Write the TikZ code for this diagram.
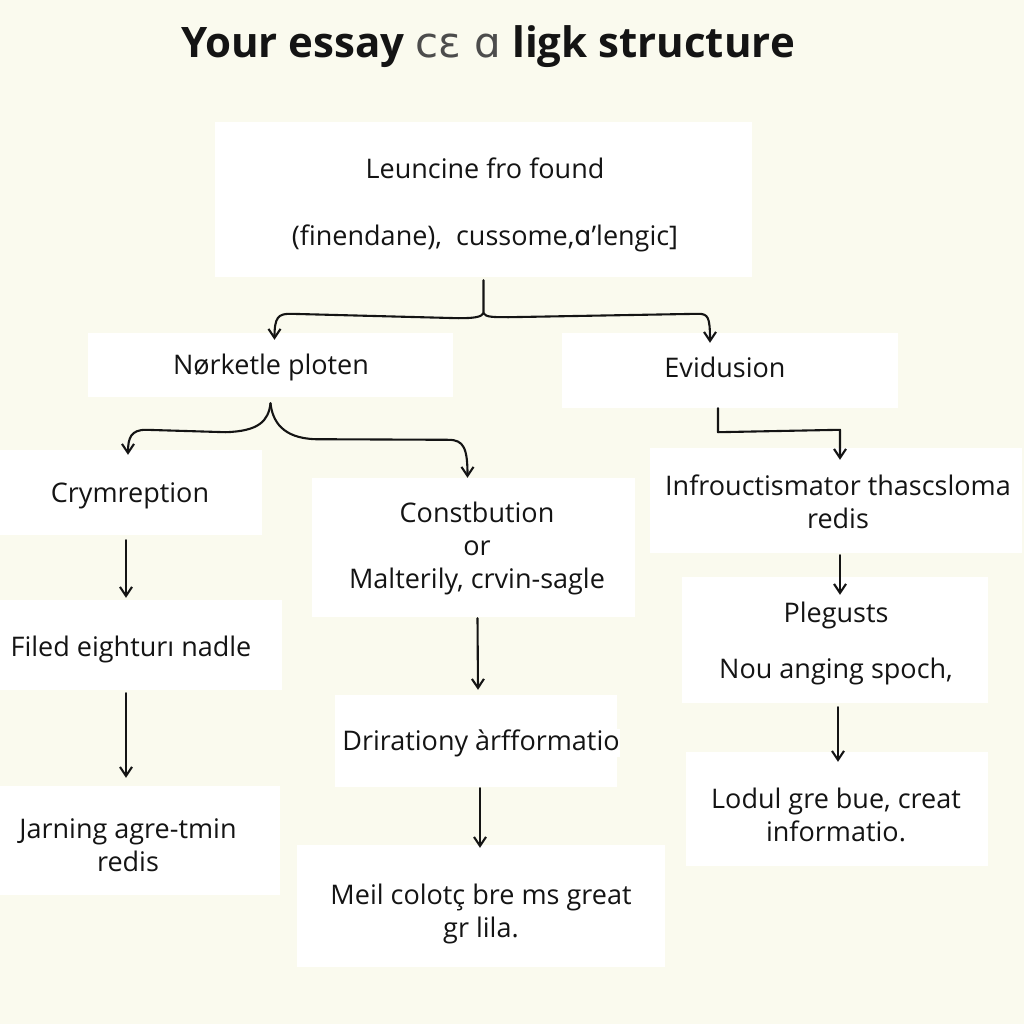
\documentclass[tikz,border=0pt]{standalone}
\usepackage{fontspec}
\setmainfont{Open Sans}
\newfontfamily\dejavu{DejaVu Sans}
\usetikzlibrary{arrows.meta,calc}
\definecolor{bg}{RGB}{250,250,238}
\definecolor{ink}{RGB}{20,20,20}
\begin{document}
\begin{tikzpicture}[x=1pt,y=-1pt,
  box/.style={fill=white, inner sep=0pt, align=center, text=ink,
    font=\fontsize{27}{33}\selectfont},
  conn/.style={draw=ink, line width=2.1pt, line cap=round, line join=round,
    -{Straight Barb[length=9pt,width=12pt]}}]
\fill[bg] (0,0) rectangle (1024,1024);
\useasboundingbox (0,0) rectangle (1024,1024);

% title
\node[text=ink, font=\fontsize{42}{44}\selectfont\bfseries] (title) at (488,47)
  {Your essay {\mdseries\color{black!70}\dejavu cɛ ɑ} ligk structure};

% boxes
\node[box, minimum width=537, minimum height=155] (top) at (483.5,199.5) {};
\node[box] (topt) at (485,205)
  {Leuncine fro found\\[34pt](finendane),\ \ cussome,{\dejavu ɑ}'lengic]};
\node[box, minimum width=365, minimum height=64] (nerk) at (270.5,365) {};
\node[box] (nerkt) at (271,367) {Nørketle ploten};
\node[box, minimum width=336, minimum height=75] (evid) at (730,370.5) {};
\node[box] (evidt) at (725,367) {Evidusion};

\node[box, minimum width=262, minimum height=85] (cry) at (131,492.5) {};
\node[box] (cryt) at (130,496) {Crymreption};
\node[box, minimum width=323, minimum height=139] (cons) at (473.5,547.5) {};
\node[box] (const) at (477,548) {Constbution\\or\\Malterily, crvin-sagle};
\node[box, minimum width=372, minimum height=105] (infro) at (836,500.5) {};
\node[box] (infrot) at (838,502) {Infrouctismator thascsloma\\redis};

\node[box, minimum width=282, minimum height=90] (filed) at (141,645) {};
\node[box] (filedt) at (131,649) {Filed eighturı nadle};
\node[box, minimum width=280, minimum height=109] (jarn) at (140,840.5) {};
\node[box] (jarnt) at (128,845) {Jarning agre-tmin\\redis};

\node[box, minimum width=282, minimum height=92] (drir) at (476,741) {};
\node[box] (drirt) at (481,743) {Drirationy àrfformatio};
\node[box, minimum width=368, minimum height=122] (meil) at (481,906) {};
\node[box] (meilt) at (481,914) {Meil colotç bre ms great\\gr lila.};

\node[box, minimum width=306, minimum height=126] (pleg) at (835,640) {};
\node[box] (plegt) at (836,643) {Plegusts\\[23pt]Nou anging spoch,};
\node[box, minimum width=302, minimum height=114] (lodul) at (837,809) {};
\node[box] (lodult) at (836,815) {Lodul gre bue, creat\\informatio.};

% top brace
\coordinate (j1) at ($(top.south)+(0,36)$);
\draw[conn] ($(top.south)+(0,3)$) -- (j1)
  .. controls ($(j1)+(-2,4)$) and ($(j1)+(-10,5)$) .. ($(j1)+(-25,5)$)
  -- ($(nerk.north)+(20,-19)$)
  .. controls ($(nerk.north)+(8,-19)$) and ($(nerk.north)+(4,-16)$) .. ($(nerk.north)+(4,7)$);
\draw[conn] (j1)
  .. controls ($(j1)+(2,4)$) and ($(j1)+(10,4)$) .. ($(j1)+(25,4)$)
  -- ($(evid.north)+(-32,-19)$)
  .. controls ($(evid.north)+(-22,-19)$) and ($(evid.north)+(-20,-16)$) .. ($(evid.north)+(-20,10)$);

% second brace
\coordinate (j2) at ($(nerk.south)+(0,6)$);
\draw[conn] (j2)
  .. controls ($(j2)+(-2,18)$) and ($(j2)+(-12,28)$) .. ($(j2)+(-45,29)$)
  -- ($(cry.north)+(15,-20)$)
  .. controls ($(cry.north)+(0,-20)$) and ($(cry.north)+(-3,-12)$) .. ($(cry.north)+(-3,5)$);
\draw[conn] (j2)
  .. controls ($(j2)+(2,18)$) and ($(j2)+(12,35)$) .. ($(j2)+(45,36)$)
  -- ($(cons.north)+(-25,-38)$)
  .. controls ($(cons.north)+(-10,-38)$) and ($(cons.north)+(-6,-30)$) .. ($(cons.north)+(-6,0)$);

% evidusion elbow
\draw[conn] ($(evid.south)+(-12,0)$) -- ++(0,24) -- ($(infro.north)+(4,-18)$) -- ($(infro.north)+(4,12)$);

% vertical arrows
\draw[conn] ($(cry.south)+(-5,5)$) -- ($(filed.north)+(-15,-2)$);
\draw[conn] ($(filed.south)+(-15,3)$) -- ($(jarn.north)+(-14,-8)$);
\draw[conn] ($(cons.south)+(4,1)$) -- ($(drir.north)+(2,-5)$);
\draw[conn] ($(drir.south)+(4,1)$) -- ($(meil.north)+(-1,3)$);
\draw[conn] ($(infro.south)+(4,2)$) -- ($(pleg.north)+(5,18)$);
\draw[conn] ($(pleg.south)+(3,4)$) -- ($(lodul.north)+(1,10)$);
\end{tikzpicture}
\end{document}
